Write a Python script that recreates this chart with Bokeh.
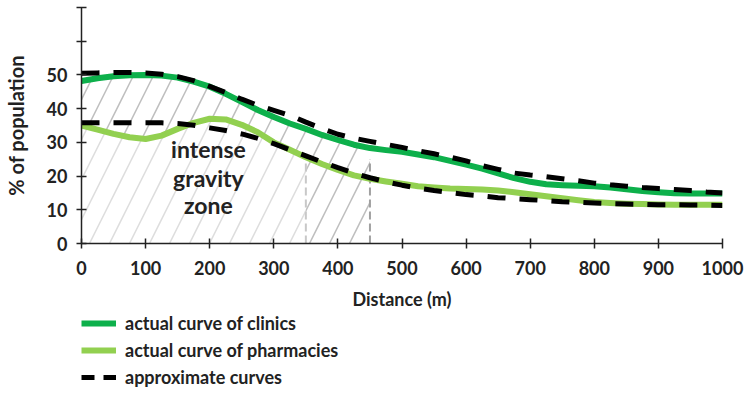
from bokeh.plotting import figure
from bokeh.layouts import column
from bokeh.models import Range1d, FixedTicker, Legend, LegendItem, Label
from bokeh.embed import file_html
from bokeh.resources import INLINE

# ---- data ----
distance = [0, 25, 50, 75, 100, 125, 150, 175, 200, 225, 250, 275, 300, 325, 350, 375,
            400, 425, 450, 475, 500, 525, 550, 575, 600, 625, 650, 675, 700, 725, 750,
            775, 800, 825, 850, 875, 900, 925, 950, 975, 1000]
clinics = [48.2, 49.0, 49.6, 49.9, 50.0, 49.8, 49.2, 48.0, 46.5, 44.4, 42.0, 39.6, 37.5,
           35.6, 34.0, 32.2, 30.7, 29.3, 28.3, 27.7, 27.2, 26.4, 25.6, 24.5, 23.4, 22.2,
           20.8, 19.4, 18.3, 17.6, 17.3, 17.1, 17.0, 16.6, 16.1, 15.6, 15.2, 14.9, 14.8,
           14.8, 14.8]
clinics_approx = [50.5, 50.6, 50.7, 50.7, 50.6, 50.2, 49.5, 48.3, 46.6, 44.8, 42.8, 41.0,
                  39.5, 38.0, 36.0, 34.1, 32.4, 31.2, 30.3, 29.4, 28.5, 27.5, 26.6, 25.6,
                  24.5, 23.1, 22.0, 20.9, 20.3, 19.8, 19.2, 18.6, 17.9, 17.4, 17.0, 16.6,
                  16.3, 16.0, 15.7, 15.3, 15.0]
pharmacies = [35.0, 33.8, 32.5, 31.5, 31.0, 32.0, 34.0, 35.8, 37.0, 36.8, 35.2, 33.0,
              30.0, 27.8, 25.6, 23.6, 21.8, 20.2, 19.2, 18.4, 17.7, 17.0, 16.6, 16.3,
              16.2, 16.0, 15.7, 15.2, 14.6, 14.0, 13.4, 12.8, 12.3, 12.0, 11.8, 11.7,
              11.6, 11.5, 11.5, 11.5, 11.5]
pharmacies_approx = [35.8, 35.8, 35.8, 35.8, 35.8, 35.8, 35.6, 35.1, 34.3, 33.5, 32.5,
                     31.2, 29.6, 27.8, 26.0, 24.2, 22.5, 20.9, 19.5, 18.3, 17.3, 16.4,
                     15.7, 15.1, 14.5, 14.1, 13.6, 13.3, 13.0, 12.7, 12.4, 12.2, 12.0,
                     11.8, 11.7, 11.6, 11.5, 11.5, 11.4, 11.4, 11.3]
x_ticks = [0, 100, 200, 300, 400, 500, 600, 700, 800, 900, 1000]
y_ticks = [0, 10, 20, 30, 40, 50, 60, 70]
y_tick_labels = ["0", "10", "20", "30", "40", "50", "", ""]
zone_bounds = [350, 450]
zone_marker_tops = [24, 25]
zone_text = ["intense", "gravity", "zone"]
zone_text_x = 198
zone_text_y = [27.9, 19.5, 11.4]
legend_labels = ["actual curve of clinics", "actual curve of pharmacies", "approximate curves"]

DARK_GREEN = "#0DB04B"
LIGHT_GREEN = "#92D050"
FONT = "Lato"
TXT = "#222222"
DASH = "18 14"

p = figure(width=745, height=312, output_backend="svg", toolbar_location=None,
           x_range=Range1d(0, 1000), y_range=Range1d(0, 70),
           min_border_left=81, min_border_right=23, min_border_top=7, min_border_bottom=0)
p.outline_line_color = None
p.grid.visible = False

# hatched zones
n_near = distance.index(zone_bounds[0]) + 1
n_far = distance.index(zone_bounds[1]) + 1
hatch_dark = dict(fill_alpha=0, hatch_pattern="/", hatch_color="#a8a8a8", hatch_alpha=0.75,
                  hatch_scale=40, hatch_weight=1.5)
hatch_light = dict(fill_alpha=0, hatch_pattern="/", hatch_color="#d9d9d9", hatch_alpha=0.9,
                   hatch_scale=40, hatch_weight=1.5)
p.varea(x=distance[:n_far], y1=pharmacies[:n_far], y2=clinics[:n_far], **hatch_dark)
p.varea(x=distance[:n_near], y1=[0] * n_near, y2=pharmacies[:n_near], **hatch_light)
p.varea(x=distance[n_near - 1:n_far], y1=[0] * (n_far - n_near + 1),
        y2=pharmacies[n_near - 1:n_far], **hatch_dark)

# zone boundary markers
p.segment(x0=[zone_bounds[0]], y0=[0], x1=[zone_bounds[0]], y1=[zone_marker_tops[0]],
          line_color="#c8c8c8", line_width=2, line_dash="8 4")
p.segment(x0=[zone_bounds[1]], y0=[0], x1=[zone_bounds[1]], y1=[zone_marker_tops[1]],
          line_color="#a0a0a0", line_width=2, line_dash="8 4")

p.line(distance, clinics, line_color=DARK_GREEN, line_width=6, line_join="round")
p.line(distance, pharmacies, line_color=LIGHT_GREEN, line_width=6, line_join="round")
p.line(distance, clinics_approx, line_color="black", line_width=5, line_dash=DASH)
p.line(distance, pharmacies_approx, line_color="black", line_width=5, line_dash=DASH)

for i, t in enumerate(zone_text):
    p.add_layout(Label(x=zone_text_x, y=zone_text_y[i], text=t, text_align="center",
                       text_baseline="middle", text_font=FONT, text_font_style="bold",
                       text_font_size="23px", text_color=TXT))

for ax in (p.xaxis[0], p.yaxis[0]):
    ax.axis_line_color = "#222222"
    ax.axis_line_width = 1.5
    ax.major_tick_line_color = "#222222"
    ax.major_tick_line_width = 1.5
    ax.major_tick_in = 5
    ax.major_tick_out = 5
    ax.minor_tick_line_color = None
    ax.major_label_text_font = FONT
    ax.major_label_text_font_style = "bold"
    ax.major_label_text_font_size = "18px"
    ax.major_label_text_color = TXT
    ax.axis_label_text_font = FONT
    ax.axis_label_text_font_style = "bold"
    ax.axis_label_text_color = TXT

p.xaxis.ticker = FixedTicker(ticks=x_ticks)
p.yaxis.ticker = FixedTicker(ticks=y_ticks)
p.yaxis.major_label_overrides = {t: l for t, l in zip(y_ticks, y_tick_labels)}
p.xaxis.axis_label = "Distance (m)"
p.yaxis.axis_label = "% of population"
p.xaxis.axis_label_text_font_size = "18px"
p.yaxis.axis_label_text_font_size = "20px"
p.xaxis.major_label_standoff = 12
p.yaxis.major_label_standoff = 9
p.xaxis.axis_label_standoff = 10
p.yaxis.axis_label_standoff = 16

# legend panel below the chart (proxy lines fall outside this panel's ranges)
q = figure(width=745, height=88, output_backend="svg", toolbar_location=None,
           x_range=Range1d(-2000, -1000), y_range=Range1d(-200, -100),
           x_axis_location=None, y_axis_location=None,
           min_border_left=81, min_border_right=0, min_border_top=0, min_border_bottom=0)
q.grid.visible = False
q.outline_line_color = None
l1 = q.line(distance, clinics, line_color=DARK_GREEN, line_width=6)
l2 = q.line(distance, pharmacies, line_color=LIGHT_GREEN, line_width=6)
l3 = q.line(distance, clinics_approx, line_color="black", line_width=5, line_dash="13 9")
legend = Legend(items=[LegendItem(label=legend_labels[0], renderers=[l1]),
                       LegendItem(label=legend_labels[1], renderers=[l2]),
                       LegendItem(label=legend_labels[2], renderers=[l3])],
                location="top_left", orientation="vertical",
                border_line_color=None, background_fill_alpha=0,
                label_text_font=FONT, label_text_font_style="bold",
                label_text_font_size="18px", label_text_color=TXT,
                glyph_width=35, glyph_height=22, label_standoff=9, spacing=5,
                padding=0, margin=0)
q.add_layout(legend)

layout = column(p, q, spacing=0)
open("out.html", "w").write(file_html(layout, INLINE))
